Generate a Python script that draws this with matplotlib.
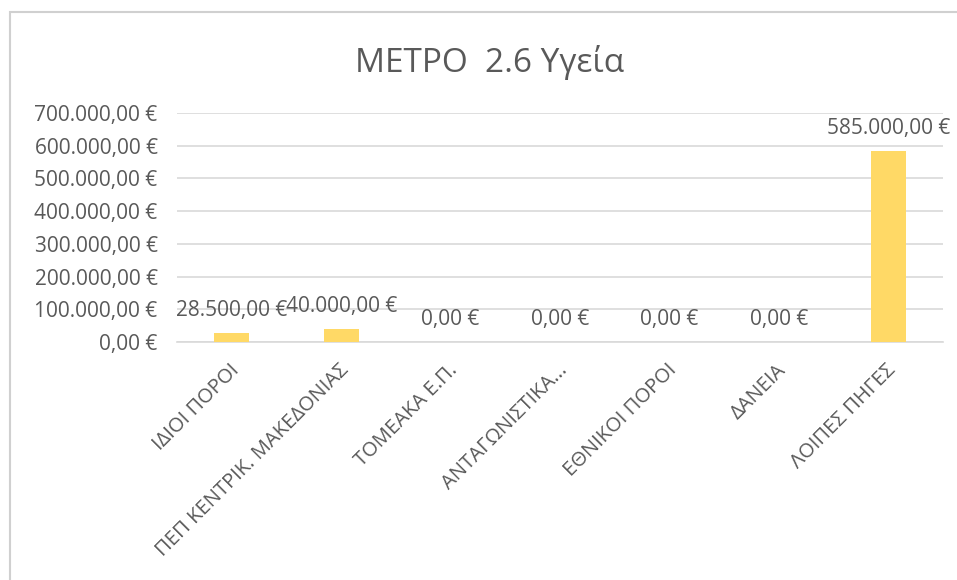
import matplotlib.pyplot as plt
from matplotlib.patches import Rectangle

categories = ['ΙΔΙΟΙ ΠΟΡΟΙ', 'ΠΕΠ ΚΕΝΤΡΙΚ. ΜΑΚΕΔΟΝΙΑΣ', 'ΤΟΜΕΑΚΑ Ε.Π.',
              'ΑΝΤΑΓΩΝΙΣΤΙΚΑ...', 'ΕΘΝΙΚΟΙ ΠΟΡΟΙ', 'ΔΑΝΕΙΑ', 'ΛΟΙΠΕΣ ΠΗΓΕΣ']
values = [28500, 40000, 0, 0, 0, 0, 585000]
yticks = [0, 100000, 200000, 300000, 400000, 500000, 600000, 700000]


def euro(v):
    s = '{:,.2f}'.format(v)
    s = s.replace(',', 'X').replace('.', ',').replace('X', '.')
    return s + ' €'


plt.rcParams['font.family'] = ['Open Sans', 'DejaVu Sans']
grey = '#595959'

fig = plt.figure(figsize=(9.57, 5.80), dpi=100)
fig.patches.append(Rectangle((10 / 957, -0.1), 1.2, 1.1 - 12 / 580,
                             transform=fig.transFigure, fill=False,
                             edgecolor='#d0d0d0', linewidth=1.5))

ax = fig.add_axes([177 / 957, 1 - 342 / 580, (943 - 177) / 957, (342 - 113) / 580])
x = range(len(categories))
ax.bar(x, values, width=0.32, color='#FFD966', zorder=3)
ax.set_xlim(-0.5, len(categories) - 0.5)
ax.set_ylim(0, 700000)
ax.set_yticks(yticks)
ax.set_yticklabels([euro(v) for v in yticks], fontsize=15, color=grey)
ax.yaxis.grid(True, color='#d9d9d9', linewidth=1.2, zorder=0)
for s in ['top', 'right', 'left']:
    ax.spines[s].set_visible(False)
ax.spines['bottom'].set_color('#d9d9d9')
ax.spines['bottom'].set_linewidth(1.2)
ax.tick_params(axis='y', length=0, pad=14)
ax.tick_params(axis='x', length=0)

# category labels at 45 degrees, top end next to the bar
ax.set_xticks(list(x))
ax.set_xticklabels([])
for i, c in enumerate(categories):
    ax.annotate(c, (i, 0), xytext=(-2, -13), textcoords='offset points',
                rotation=45, ha='right', va='top', rotation_mode='anchor',
                fontsize=14.5, color=grey, annotation_clip=False)

for i, v in enumerate(values):
    ax.annotate(euro(v), (i, v), xytext=(0, 16), textcoords='offset points',
                ha='center', va='center', fontsize=15, color=grey)

fig.text(0.512, 1 - 62 / 580, 'ΜΕΤΡΟ  2.6 Υγεία', ha='center', va='center',
         fontsize=24, color=grey)

fig.savefig('out.png', dpi=100)
